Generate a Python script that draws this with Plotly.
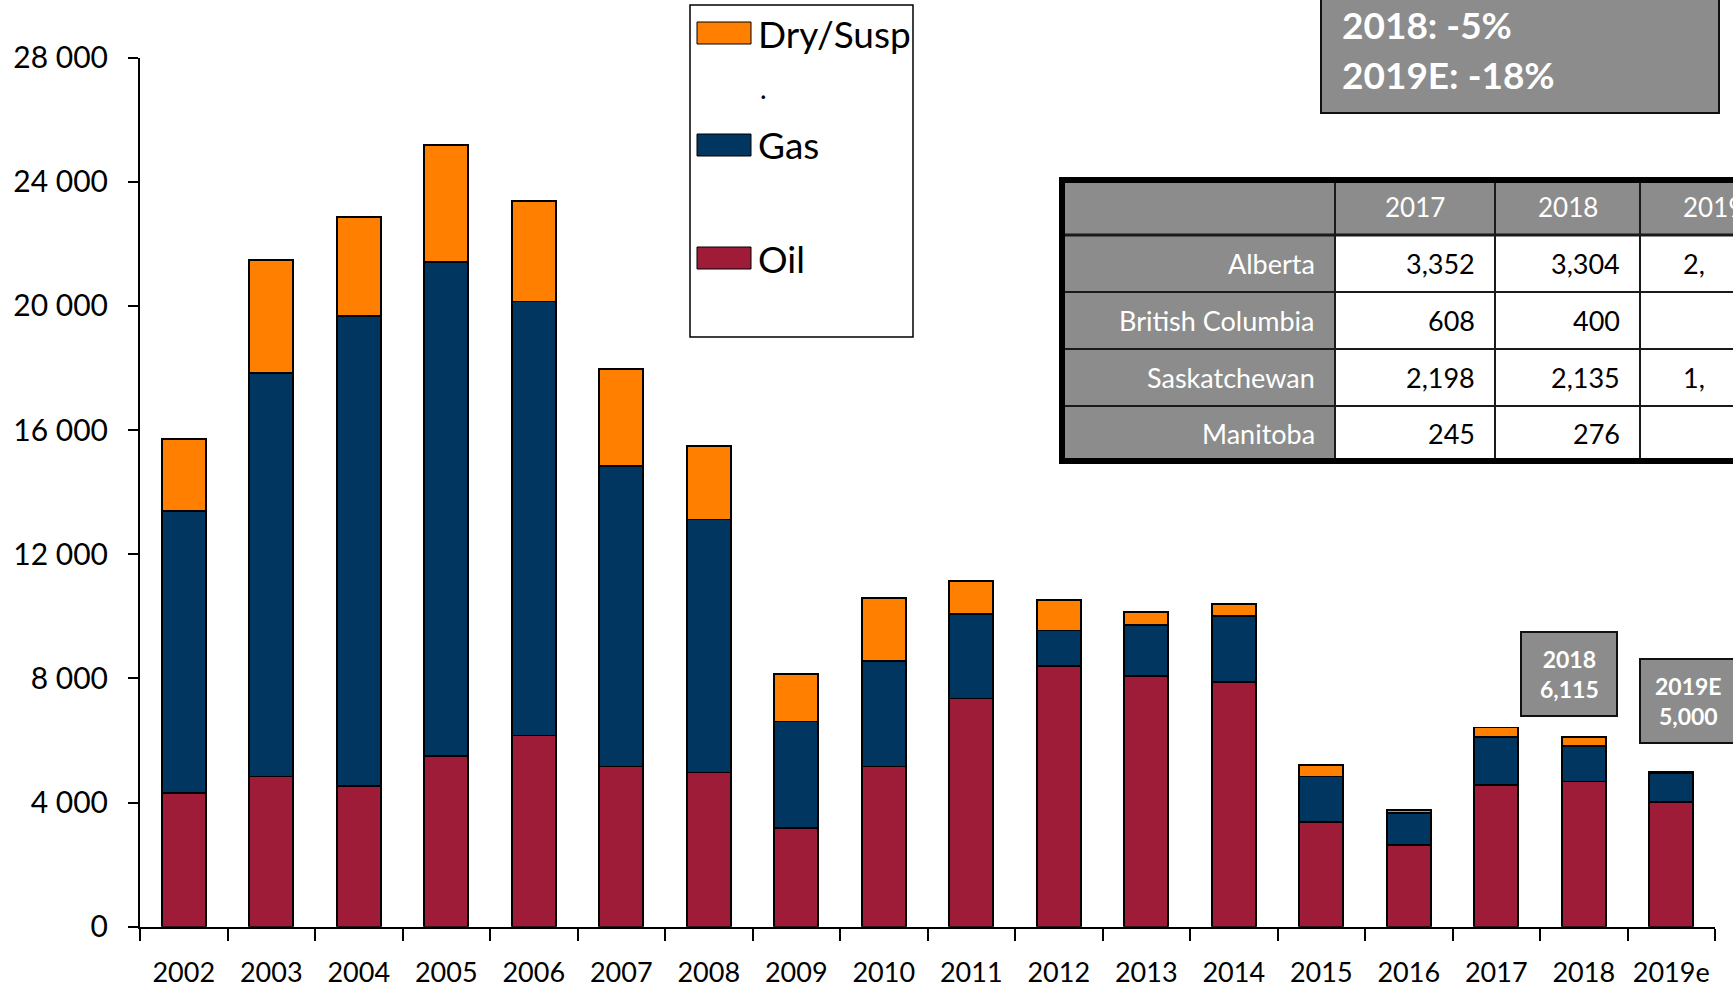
import plotly.graph_objects as go

W, H = 1733, 987

years = ['2002', '2003', '2004', '2005', '2006', '2007', '2008', '2009', '2010',
         '2011', '2012', '2013', '2014', '2015', '2016', '2017', '2018', '2019e']
oil = [4300, 4840, 4520, 5510, 6160, 5160, 4970, 3170, 5160,
       7350, 8390, 8070, 7870, 3370, 2640, 4570, 4680, 4030]
gas = [9090, 12990, 15160, 15890, 13980, 9680, 8150, 3440, 3390,
       2720, 1150, 1660, 2130, 1470, 1020, 1530, 1130, 920]
dry = [2310, 3640, 3170, 3780, 3250, 3120, 2370, 1540, 2040,
       1060, 990, 400, 400, 380, 110, 320, 305, 50]

tbl_rows = ['Alberta', 'British Columbia', 'Saskatchewan', 'Manitoba']
tbl_head = ['2017', '2018', '2019']
tbl_2017 = ['3,352', '608', '2,198', '245']
tbl_2018 = ['3,304', '400', '2,135', '276']
tbl_2019 = ['2,', '', '1,', '']

growth = ['2018: -5%', '2019E: -18%']
callouts = [('2018', '6,115'), ('2019E', '5,000')]

C_OIL, C_GAS, C_DRY = '#9E1C38', '#003660', '#FF8000'
GREY = '#8C8C8C'
FONT = 'Lato'


def px(x):
    return x / W


def py(y):
    return 1 - y / H


fig = go.Figure()
for name, vals, col in [('Oil', oil, C_OIL), ('Gas', gas, C_GAS), ('Dry/Susp', dry, C_DRY)]:
    fig.add_bar(x=years, y=vals, name=name, marker=dict(color=col, line=dict(color='black', width=1.8)))

shapes = []
ann = []

# legend box
shapes.append(dict(type='rect', xref='paper', yref='paper', x0=px(690), x1=px(913), y0=py(5), y1=py(337),
                   line=dict(color='black', width=1.5), fillcolor='white'))
for lbl, col, yc in [('Dry/Susp', C_DRY, 33), ('Gas', C_GAS, 145), ('Oil', C_OIL, 258)]:
    shapes.append(dict(type='rect', xref='paper', yref='paper', x0=px(697), x1=px(751), y0=py(yc - 11), y1=py(yc + 11),
                       line=dict(color='black', width=1), fillcolor=col))
    ann.append(dict(xref='paper', yref='paper', x=px(756), y=py(yc), text=lbl, showarrow=False,
                    xanchor='left', yanchor='middle', font=dict(size=37, color='black')))
ann.append(dict(xref='paper', yref='paper', x=px(758), y=py(88), text='.', showarrow=False,
                xanchor='left', yanchor='middle', font=dict(size=28, color='black')))

# top growth box
shapes.append(dict(type='rect', xref='paper', yref='paper', x0=px(1321), x1=px(1719), y0=py(-10), y1=py(113),
                   line=dict(color='#111111', width=2), fillcolor=GREY))
for t, yc in zip(growth, [24, 75]):
    ann.append(dict(xref='paper', yref='paper', x=px(1340), y=py(yc), text='<b>' + t + '</b>', showarrow=False,
                    xanchor='left', yanchor='middle', font=dict(size=37, color='white')))

# table
tx0, tx1 = 1062, 1790
cols = [1062, 1335, 1495, 1640, 1790]
rows_y = [180, 235, 292, 349, 406, 461]
shapes.append(dict(type='rect', xref='paper', yref='paper', x0=px(tx0), x1=px(tx1), y0=py(rows_y[0]), y1=py(rows_y[-1]),
                   line=dict(width=0), fillcolor='white'))
shapes.append(dict(type='rect', xref='paper', yref='paper', x0=px(tx0), x1=px(tx1), y0=py(rows_y[0]), y1=py(rows_y[1]),
                   line=dict(width=0), fillcolor=GREY))
shapes.append(dict(type='rect', xref='paper', yref='paper', x0=px(tx0), x1=px(cols[1]), y0=py(rows_y[0]), y1=py(rows_y[-1]),
                   line=dict(width=0), fillcolor=GREY))
for yy in rows_y[1:-1]:
    shapes.append(dict(type='line', xref='paper', yref='paper', x0=px(tx0), x1=px(tx1), y0=py(yy), y1=py(yy),
                       line=dict(color='#1a1a1a', width=3 if yy == rows_y[1] else 2)))
for xx in cols[1:-1]:
    shapes.append(dict(type='line', xref='paper', yref='paper', x0=px(xx), x1=px(xx), y0=py(rows_y[0]), y1=py(rows_y[-1]),
                       line=dict(color='#1a1a1a', width=2)))
shapes.append(dict(type='rect', xref='paper', yref='paper', x0=px(tx0), x1=px(tx1), y0=py(rows_y[0]), y1=py(rows_y[-1]),
                   line=dict(color='black', width=6)))

for i, h in enumerate(tbl_head):
    ann.append(dict(xref='paper', yref='paper', x=px((cols[i + 1] + cols[i + 2]) / 2 if i < 2 else 1713),
                    y=py((rows_y[0] + rows_y[1]) / 2), text=h, showarrow=False, xanchor='center', yanchor='middle',
                    font=dict(size=26, color='white')))
for r, name in enumerate(tbl_rows):
    yc = py((rows_y[r + 1] + rows_y[r + 2]) / 2)
    ann.append(dict(xref='paper', yref='paper', x=px(cols[1] - 18), y=yc, text=name, showarrow=False,
                    xanchor='right', yanchor='middle', font=dict(size=27, color='white')))
    ann.append(dict(xref='paper', yref='paper', x=px(cols[2] - 18), y=yc, text=tbl_2017[r], showarrow=False,
                    xanchor='right', yanchor='middle', font=dict(size=27, color='black')))
    ann.append(dict(xref='paper', yref='paper', x=px(cols[3] - 18), y=yc, text=tbl_2018[r], showarrow=False,
                    xanchor='right', yanchor='middle', font=dict(size=27, color='black')))
    if tbl_2019[r]:
        ann.append(dict(xref='paper', yref='paper', x=px(1681), y=yc, text=tbl_2019[r], showarrow=False,
                        xanchor='left', yanchor='middle', font=dict(size=27, color='black')))

# callout boxes
for (a, b), (x0, x1, y0, y1, xc) in zip(callouts, [(1521, 1617, 632, 716, 1569), (1640, 1760, 659, 743, 1688)]):
    shapes.append(dict(type='rect', xref='paper', yref='paper', x0=px(x0), x1=px(x1), y0=py(y0), y1=py(y1),
                       line=dict(color='#111111', width=2), fillcolor=GREY))
    ann.append(dict(xref='paper', yref='paper', x=px(xc), y=py((y0 + y1) / 2), text='<b>' + a + '<br>' + b + '</b>',
                    showarrow=False, xanchor='center', yanchor='middle', font=dict(size=23, color='white')))

fig.update_layout(
    width=W, height=H,
    barmode='stack', bargap=0.5,
    showlegend=False,
    plot_bgcolor='white', paper_bgcolor='white',
    margin=dict(l=0, r=0, t=0, b=0, autoexpand=False),
    separators='. ',
    font=dict(family=FONT, size=28, color='black'),
    shapes=shapes, annotations=ann,
    xaxis=dict(domain=[px(140), px(1715)], type='category', range=[-0.5, 17.5], tickson='boundaries',
               ticks='outside', ticklen=12, tickwidth=1.5, tickcolor='black', showline=True, linecolor='black',
               linewidth=2, showgrid=False, ticklabelstandoff=21, tickangle=0, automargin=False,
               tickfont=dict(size=27)),
    yaxis=dict(domain=[py(926.7), py(57.5)], range=[0, 28000], dtick=4000, tickformat=',',
               ticks='outside', ticklen=10, tickwidth=1.5, tickcolor='black', showline=True, linecolor='black',
               linewidth=2, showgrid=False, zeroline=False, ticklabelstandoff=14, automargin=False,
               tickfont=dict(size=30)),
)

# drop the default page margin so the figure sits at the window corner
fig.write_html('out.html', config={'displayModeBar': False},
               post_script="document.body.style.margin='0';")
